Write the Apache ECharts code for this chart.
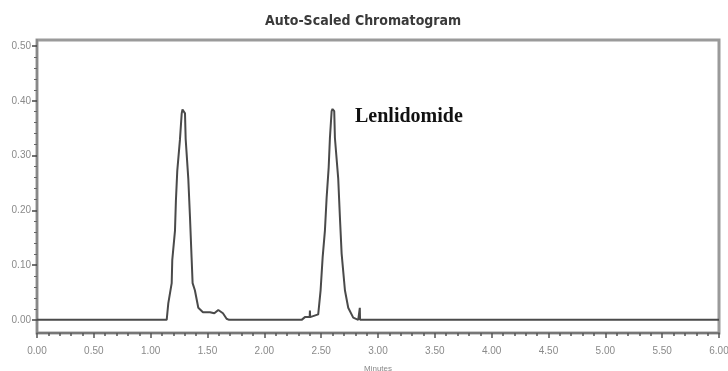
<!DOCTYPE html>
<html>
<head>
<meta charset="utf-8">
<script src="https://cdn.jsdelivr.net/npm/echarts@6/dist/echarts.min.js"></script>
<style>html,body{margin:0;padding:0;background:#fff}#c{width:728px;height:371px}</style>
</head>
<body>
<div id="c"></div>
<script>
// Retention time (minutes) and detector response (AU)
const timeMin = [0, 1.141, 1.155, 1.185, 1.190, 1.214, 1.222, 1.234, 1.258, 1.273, 1.280, 1.290, 1.302, 1.308, 1.331, 1.346, 1.360, 1.369, 1.389, 1.419, 1.460, 1.522, 1.560, 1.595, 1.636, 1.668, 1.690, 2.328, 2.357, 2.399, 2.401, 2.403, 2.474, 2.495, 2.513, 2.533, 2.548, 2.566, 2.577, 2.592, 2.600, 2.608, 2.615, 2.621, 2.650, 2.665, 2.680, 2.709, 2.738, 2.782, 2.826, 2.838, 2.840, 2.842, 6.0];
const signalAU = [0, 0, 0.030, 0.067, 0.109, 0.163, 0.217, 0.272, 0.330, 0.377, 0.384, 0.384, 0.377, 0.330, 0.258, 0.187, 0.114, 0.067, 0.054, 0.022, 0.014, 0.014, 0.012, 0.018, 0.012, 0.002, 0, 0, 0.005, 0.005, 0.017, 0.005, 0.010, 0.054, 0.114, 0.163, 0.223, 0.278, 0.332, 0.381, 0.385, 0.385, 0.381, 0.332, 0.258, 0.187, 0.121, 0.054, 0.022, 0.004, 0, 0, 0.022, 0, 0];
const yMajorTicks = [0, 0.1, 0.2, 0.3, 0.4, 0.5];
const yMinorTicks = [0.02, 0.04, 0.06, 0.08, 0.12, 0.14, 0.16, 0.18, 0.22, 0.24, 0.26, 0.28, 0.32, 0.34, 0.36, 0.38, 0.42, 0.44, 0.46, 0.48];
const chartTitle = 'Auto-Scaled Chromatogram';
const peakName = 'Lenlidomide';
const xName = 'Minutes';

const chart = echarts.init(document.getElementById('c'), null, {renderer: 'canvas'});
chart.setOption({
  animation: false,
  title: [
    {text: chartTitle, left: 265, top: 14, padding: 0,
     textStyle: {fontFamily: 'DejaVu Sans Condensed', fontSize: 14, fontWeight: 'bold', color: '#3a3a3a'}},
    {text: peakName, left: 355, top: 107, padding: 0,
     textStyle: {fontFamily: 'Liberation Serif', fontSize: 20, fontWeight: 'bold', color: '#111'}}
  ],
  grid: {left: 37, right: 9, top: 40, bottom: 38, show: true, borderColor: '#9a9a9a', borderWidth: 3, backgroundColor: 'transparent', outerBoundsMode: 'none', containLabel: false},
  xAxis: {
    type: 'value', min: 0, max: 6, interval: 0.5,
    name: xName, nameLocation: 'middle', nameGap: 32,
    nameTextStyle: {fontSize: 8, color: '#888', fontFamily: 'Liberation Sans'},
    axisLine: {show: true, onZero: false, lineStyle: {color: '#777', width: 2}},
    axisTick: {show: true, length: 5, lineStyle: {color: '#555', width: 1.5}},
    minorTick: {show: true, splitNumber: 5, length: 3, lineStyle: {color: '#555', width: 1.5}},
    axisLabel: {margin: 13, fontSize: 10, color: '#8a8a8a', fontFamily: 'Liberation Sans', formatter: v => v.toFixed(2)},
    splitLine: {show: false}
  },
  yAxis: [
    {
      type: 'value', min: -0.024, max: 0.511,
      axisLine: {show: true, lineStyle: {color: '#888', width: 2}},
      axisTick: {show: true, length: 5, customValues: yMajorTicks, lineStyle: {color: '#444', width: 1.5}},
      axisLabel: {margin: 6, fontSize: 10, color: '#8a8a8a', fontFamily: 'Liberation Sans', customValues: yMajorTicks, formatter: v => v.toFixed(2)},
      splitLine: {show: false}
    },
    {
      type: 'value', min: -0.024, max: 0.511, position: 'left',
      axisLine: {show: false},
      axisTick: {show: true, length: 3, customValues: yMinorTicks, lineStyle: {color: '#666', width: 1}},
      axisLabel: {show: false},
      splitLine: {show: false}
    }
  ],
  series: [{
    type: 'line',
    data: timeMin.map((t, i) => [t, signalAU[i]]),
    showSymbol: false,
    lineStyle: {color: '#4a4a4a', width: 2},
    z: 3
  }]
});
</script>
</body>
</html>
